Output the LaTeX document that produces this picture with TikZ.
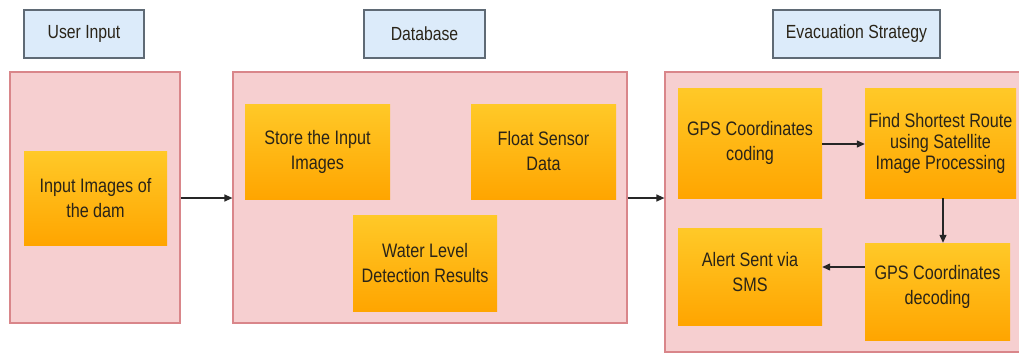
\documentclass[tikz,border=0pt]{standalone}
\usepackage{fontspec}
\setmainfont{Liberation Sans}
\newfontfamily\narrowfont[FakeStretch=0.83]{Liberation Sans}
\usetikzlibrary{arrows.meta}
\definecolor{pinkfill}{HTML}{F6CFD0}
\definecolor{pinkdraw}{HTML}{D9868A}
\definecolor{bluefill}{HTML}{DCEBFA}
\definecolor{bluedraw}{HTML}{5F6A75}
\definecolor{orangetop}{HTML}{FFC928}
\definecolor{orangebot}{HTML}{FFA500}
\definecolor{textcol}{HTML}{2A2418}
\tikzset{
  x=1pt,y=-1pt,
  panel/.style={draw=pinkdraw,fill=pinkfill,line width=1.2pt},
  heading/.style={draw=bluedraw,fill=bluefill,line width=1.2pt,text=textcol,font=\narrowfont\fontsize{19}{21}\selectfont},
  stepbox/.style={top color=orangetop,bottom color=orangebot,draw=none,align=center,text=textcol,
    font=\narrowfont\fontsize{19.5}{25}\selectfont},
  tight/.style={font=\narrowfont\fontsize{19.5}{21}\selectfont},
  conn/.style={-{Triangle[length=8pt,width=7pt]},line width=1.3pt,draw=black!85},
}
\newcommand{\boxat}[6]{\node[#1,minimum width=#4-#2,minimum height=#5-#3,inner sep=0pt] (#6) at ({(#2+#4)/2},{(#3+#5)/2})}
\begin{document}
\begin{tikzpicture}
\useasboundingbox[fill=white] (0,0) rectangle (1019,356);
% headings
\boxat{heading}{24}{10}{144}{58}{h1} {User Input};
\boxat{heading}{364}{10}{485}{58}{h2} {Database};
\boxat{heading}{773}{10}{940}{58}{h3} {Evacuation Strategy};
% panels
\boxat{panel}{10}{72}{180}{323}{p1} {};
\boxat{panel}{233}{72}{627}{323}{p2} {};
\boxat{panel}{665}{72}{1025}{352}{p3} {};
% steps
\boxat{stepbox}{24}{151}{167}{245}{s1} {Input Images of\\the dam};
\boxat{stepbox}{245}{104}{390}{199}{s2} {Store the Input\\Images};
\boxat{stepbox}{471}{104}{616}{199}{s3} {Float Sensor\\Data};
\boxat{stepbox}{353}{215}{497}{311}{s4} {Water Level\\Detection Results};
\boxat{stepbox}{678}{88}{822}{198}{s5} {GPS Coordinates\\coding};
\boxat{stepbox,tight}{865}{88}{1016}{198}{s6} {Find Shortest Route\\using Satellite\\Image Processing};
\boxat{stepbox,text depth=14pt}{865}{243}{1010}{340}{s7} {GPS Coordinates\\decoding};
\boxat{stepbox,text depth=10pt}{678}{228}{822}{325}{s8} {Alert Sent via\\SMS};
% connectors
\coordinate (y1) at (0,198);
\coordinate (y2) at (0,144);
\coordinate (y3) at (0,267);
\coordinate (x1) at (943,0);
\draw[conn] (p1.east |- y1) -- (p2.west |- y1);
\draw[conn] (p2.east |- y1) -- (p3.west |- y1);
\draw[conn] (s5.east |- y2) -- (s6.west |- y2);
\draw[conn] (s6.south -| x1) -- (s7.north -| x1);
\draw[conn] (s7.west |- y3) -- (s8.east |- y3);
\end{tikzpicture}
\end{document}
